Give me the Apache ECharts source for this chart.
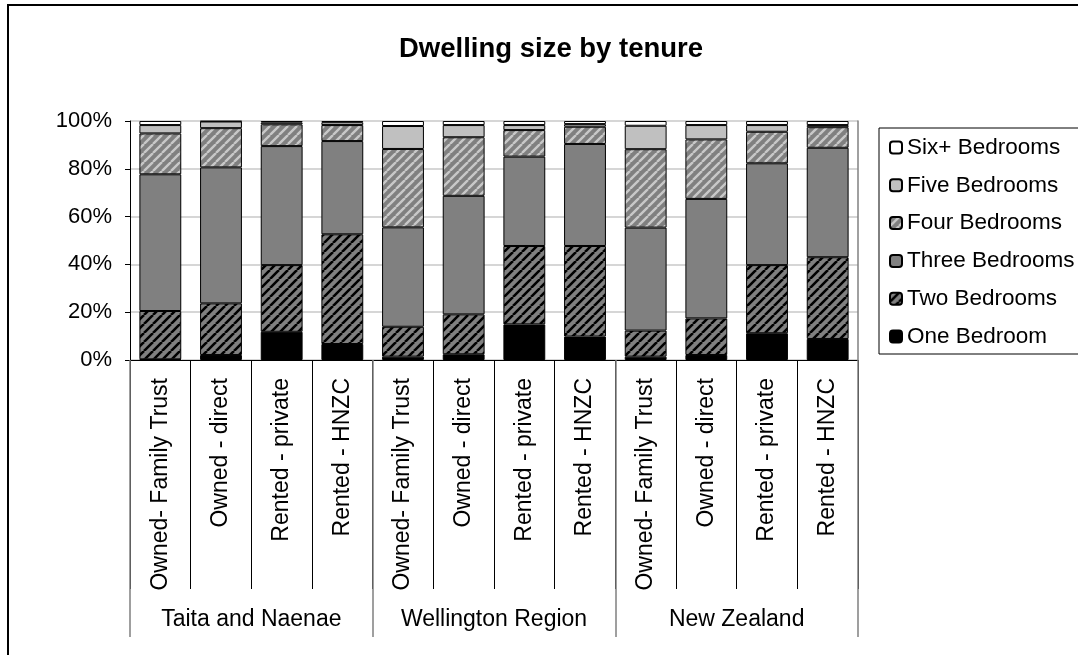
<!DOCTYPE html>
<html>
<head>
<meta charset="utf-8">
<script src="https://cdn.jsdelivr.net/npm/echarts@6/dist/echarts.min.js"></script>
<style>
  html, body { margin: 0; padding: 0; background: #fff; }
  #chart { width: 1078px; height: 655px; }
</style>
</head>
<body>
<div id="chart"></div>
<script>
// Tenure categories and the area each group belongs to
const categories = [
  'Owned- Family Trust', 'Owned - direct', 'Rented - private', 'Rented - HNZC',
  'Owned- Family Trust', 'Owned - direct', 'Rented - private', 'Rented - HNZC',
  'Owned- Family Trust', 'Owned - direct', 'Rented - private', 'Rented - HNZC'
];
const groups = ['Taita and Naenae', 'Wellington Region', 'New Zealand'];

// Share of dwellings (%) by number of bedrooms
const oneBedroom    = [0.3, 2.1, 11.8, 6.7, 1.4, 2.4, 14.9, 9.8, 1.4, 2.1, 11.2, 8.8];
const twoBedrooms   = [20.2, 21.6, 27.9, 45.9, 12.5, 16.7, 32.8, 37.9, 10.9, 15.3, 28.5, 34.2];
const threeBedrooms = [57.2, 56.9, 49.8, 39.0, 41.6, 49.6, 37.4, 42.7, 43.1, 50.0, 42.6, 45.8];
const fourBedrooms  = [17.1, 16.4, 9.1, 6.7, 32.8, 24.5, 11.1, 7.2, 32.8, 24.9, 13.2, 8.6];
const fiveBedrooms  = [3.5, 2.8, 0.8, 1.2, 9.6, 5.1, 2.1, 1.1, 9.8, 6.0, 2.8, 0.9];
const sixBedrooms   = [1.7, 0.2, 0.6, 0.5, 2.1, 1.7, 1.7, 1.3, 2.0, 1.7, 1.7, 1.7];

const yTicks = [0, 20, 40, 60, 80, 100];

const FONT = "'Liberation Sans', Arial, sans-serif";

// Diagonal hatch fill ("/" direction) on a small repeating tile
function hatch(bg, fg, size, lw) {
  const c = document.createElement('canvas');
  c.width = size; c.height = size;
  const ctx = c.getContext('2d');
  ctx.fillStyle = bg;
  ctx.fillRect(0, 0, size, size);
  ctx.strokeStyle = fg;
  ctx.lineWidth = lw;
  ctx.beginPath();
  for (let k = -1; k <= 1; k++) {
    ctx.moveTo(k * size, size);
    ctx.lineTo(k * size + size, 0);
  }
  ctx.stroke();
  return { image: c, repeat: 'repeat' };
}

const fills = {
  one: '#000000',
  two: hatch('#808080', '#000000', 9, 2.6),
  three: '#808080',
  four: hatch('#808080', '#c8c8c8', 9, 2.4),
  five: '#c0c0c0',
  six: '#ffffff'
};

function bar(name, data, color) {
  return {
    name: name,
    type: 'bar',
    stack: 'all',
    xAxisIndex: 0,
    barCategoryGap: '31%',
    data: data,
    itemStyle: { color: color, borderColor: '#000', borderWidth: 1 },
    emphasis: { disabled: true }
  };
}

const chart = echarts.init(document.getElementById('chart'), null, { renderer: 'canvas' });

chart.setOption({
  animation: false,
  backgroundColor: '#fff',
  textStyle: { fontFamily: FONT },
  title: {
    text: 'Dwelling size by tenure',
    left: 394,
    top: 30,
    textStyle: { fontFamily: FONT, fontWeight: 'bold', fontSize: 27.5, color: '#000' }
  },
  legend: {
    orient: 'vertical',
    left: 879,
    top: 128,
    padding: [8, 10, 6, 10],
    itemGap: 14.8,
    itemWidth: 12,
    itemHeight: 12,
    borderColor: '#000',
    borderWidth: 1,
    data: ['Six+ Bedrooms', 'Five Bedrooms', 'Four Bedrooms', 'Three Bedrooms', 'Two Bedrooms', 'One Bedroom'],
    textStyle: { fontFamily: FONT, fontSize: 22.5, color: '#000', lineHeight: 22 },
    selectedMode: false
  },
  grid: { left: 130, right: 220, top: 121, bottom: 295, containLabel: false },
  xAxis: [
    {
      type: 'category',
      data: categories,
      position: 'bottom',
      axisLine: { show: true, lineStyle: { color: '#000', width: 1 } },
      axisTick: { show: true, interval: 0, length: 229, lineStyle: { color: '#000', width: 1 } },
      axisLabel: {
        interval: 0, rotate: 90, margin: 18,
        fontFamily: FONT, fontSize: 23, color: '#000'
      },
      splitLine: { show: false }
    },
    {
      type: 'category',
      data: groups,
      position: 'bottom',
      axisLine: { show: false },
      axisTick: { show: true, interval: 0, length: 277, lineStyle: { color: '#808080', width: 1.5 } },
      axisLabel: {
        interval: 0, margin: 248,
        fontFamily: FONT, fontSize: 23, color: '#000'
      },
      splitLine: { show: false }
    }
  ],
  yAxis: [
    {
      type: 'value',
      min: 0,
      max: 100,
      interval: 20,
      axisLine: { show: true, lineStyle: { color: '#000', width: 1 } },
      axisTick: { show: true, length: 5, lineStyle: { color: '#000' } },
      axisLabel: {
        margin: 18, fontFamily: FONT, fontSize: 22, color: '#000',
        formatter: function (v) { return yTicks.indexOf(v) >= 0 ? v + '%' : ''; }
      },
      splitLine: { show: true, lineStyle: { color: '#c8c8c8', width: 1.5 } }
    },
    {
      type: 'value',
      position: 'right',
      min: 0,
      max: 100,
      interval: 20,
      axisLine: { show: true, lineStyle: { color: '#808080', width: 1.5 } },
      axisTick: { show: false },
      axisLabel: { show: false },
      splitLine: { show: false }
    }
  ],
  graphic: [
    {
      type: 'rect',
      shape: { x: 8, y: 5, width: 1200, height: 800 },
      style: { fill: 'none', stroke: '#000', lineWidth: 2 },
      silent: true,
      z: 100
    }
  ],
  series: [
    bar('One Bedroom', oneBedroom, fills.one),
    bar('Two Bedrooms', twoBedrooms, fills.two),
    bar('Three Bedrooms', threeBedrooms, fills.three),
    bar('Four Bedrooms', fourBedrooms, fills.four),
    bar('Five Bedrooms', fiveBedrooms, fills.five),
    bar('Six+ Bedrooms', sixBedrooms, fills.six)
  ]
});
</script>
</body>
</html>
